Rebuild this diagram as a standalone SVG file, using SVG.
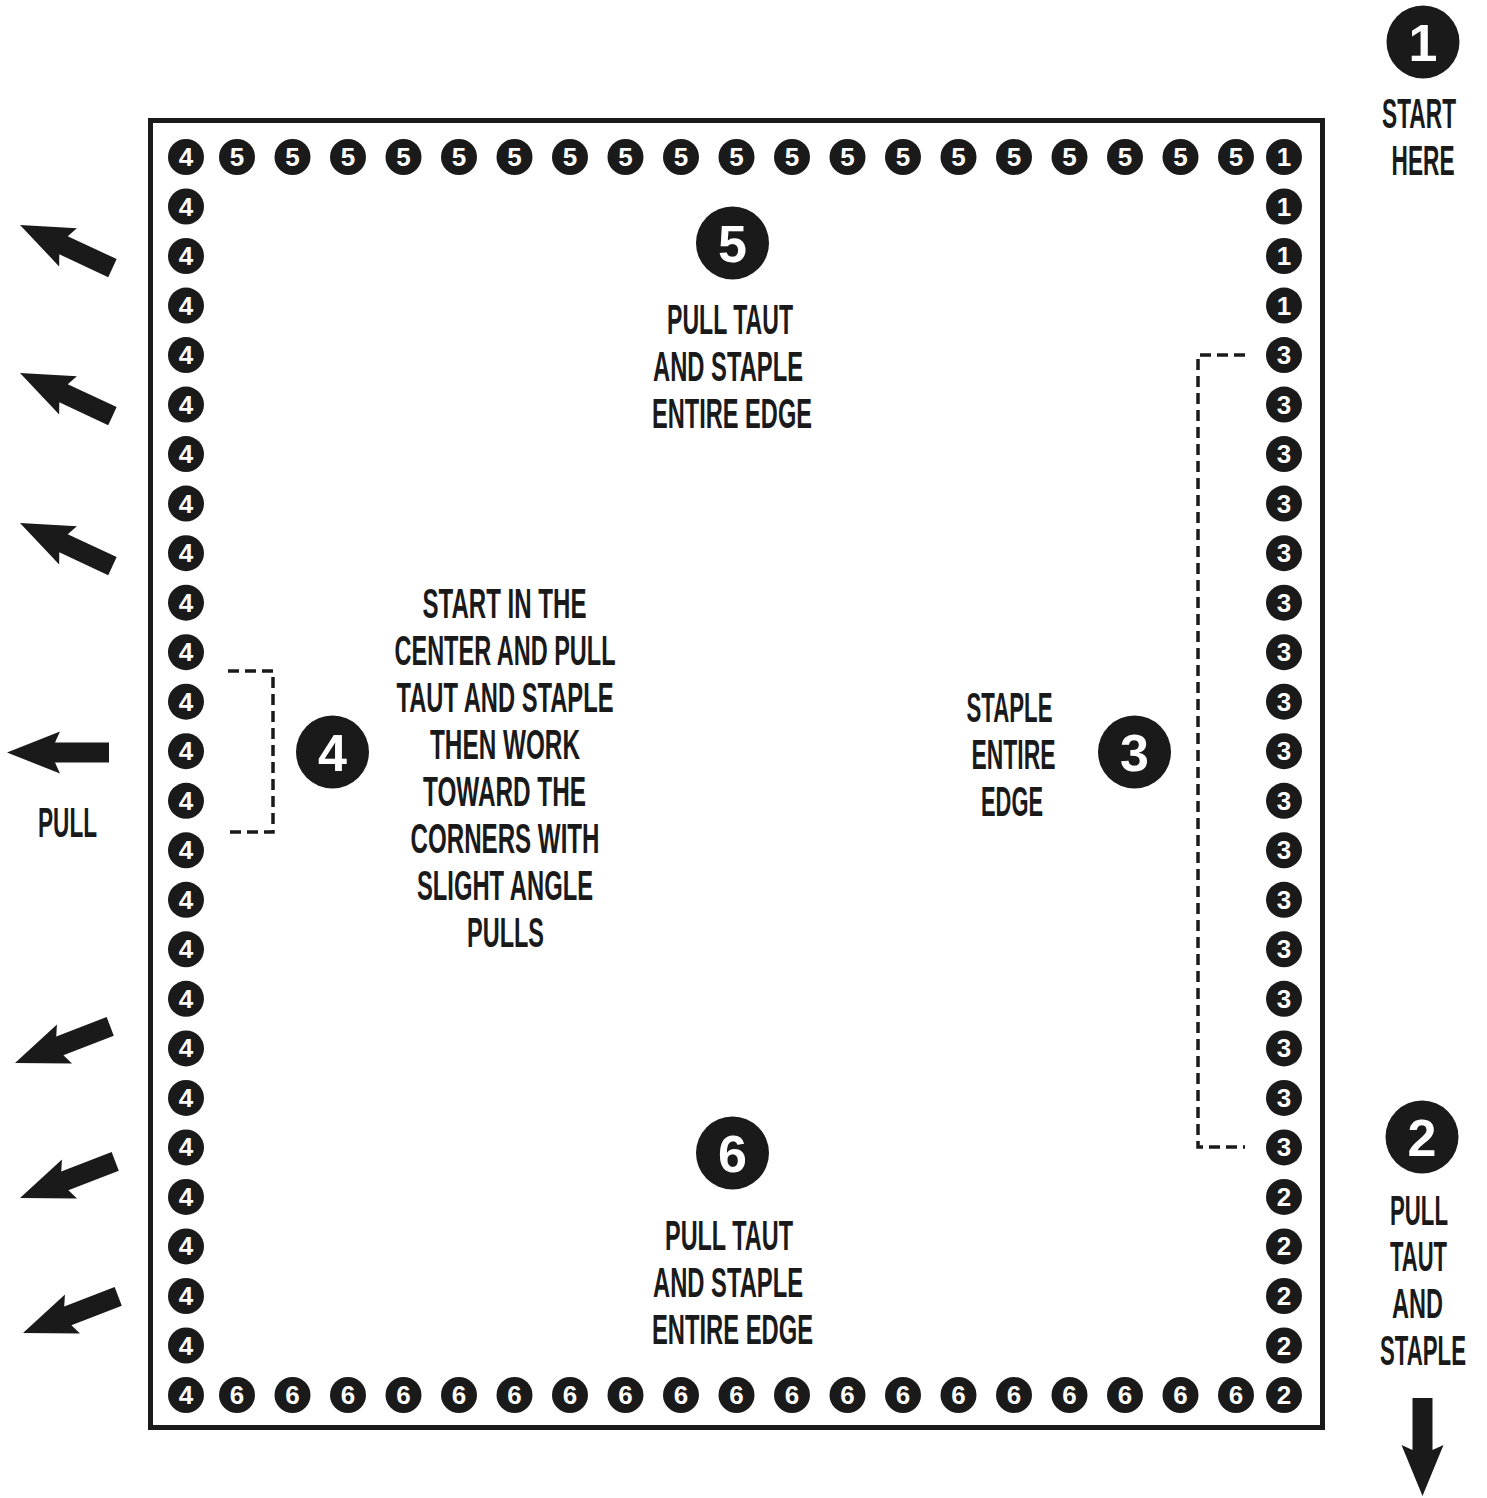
<svg xmlns="http://www.w3.org/2000/svg" xmlns:xlink="http://www.w3.org/1999/xlink" width="1487" height="1498" viewBox="0 0 1487 1498">
<style>
.s circle{fill:#1a1a1a}
.s text{fill:#fff;font-family:"Liberation Sans",Arial,sans-serif;font-weight:bold;font-size:26px;text-anchor:middle}
.b circle{fill:#1a1a1a}
.b text{fill:#fff;font-family:"Liberation Sans",Arial,sans-serif;font-weight:bold;font-size:52px;text-anchor:middle}
.lbl{fill:#1a1a1a;font-family:"Liberation Sans",Arial,sans-serif;font-weight:bold;font-size:43px;text-anchor:middle}
.dash{fill:none;stroke:#1a1a1a;stroke-width:3.5;stroke-dasharray:11 6}
.arrow{fill:#1a1a1a}
</style>
<defs>
<path id="arr" d="M0,0 L53,-21 L48,-10 L102,-10 L102,10 L48,10 L53,21 Z"/>
</defs>
<rect x="0" y="0" width="1487" height="1498" fill="#fff"/>
<g id="frame"><rect x="150.5" y="120.5" width="1172" height="1307" fill="none" stroke="#1a1a1a" stroke-width="5"/></g>

<g id="top-row">
<g class="s" transform="translate(186,157)"><circle r="18"/><text y="9">4</text></g>
<g class="s" transform="translate(237,157)"><circle r="18"/><text y="9">5</text></g>
<g class="s" transform="translate(292.5,157)"><circle r="18"/><text y="9">5</text></g>
<g class="s" transform="translate(348,157)"><circle r="18"/><text y="9">5</text></g>
<g class="s" transform="translate(403.5,157)"><circle r="18"/><text y="9">5</text></g>
<g class="s" transform="translate(459,157)"><circle r="18"/><text y="9">5</text></g>
<g class="s" transform="translate(514.5,157)"><circle r="18"/><text y="9">5</text></g>
<g class="s" transform="translate(570,157)"><circle r="18"/><text y="9">5</text></g>
<g class="s" transform="translate(625.5,157)"><circle r="18"/><text y="9">5</text></g>
<g class="s" transform="translate(681,157)"><circle r="18"/><text y="9">5</text></g>
<g class="s" transform="translate(736.5,157)"><circle r="18"/><text y="9">5</text></g>
<g class="s" transform="translate(792,157)"><circle r="18"/><text y="9">5</text></g>
<g class="s" transform="translate(847.5,157)"><circle r="18"/><text y="9">5</text></g>
<g class="s" transform="translate(903,157)"><circle r="18"/><text y="9">5</text></g>
<g class="s" transform="translate(958.5,157)"><circle r="18"/><text y="9">5</text></g>
<g class="s" transform="translate(1014,157)"><circle r="18"/><text y="9">5</text></g>
<g class="s" transform="translate(1069.5,157)"><circle r="18"/><text y="9">5</text></g>
<g class="s" transform="translate(1125,157)"><circle r="18"/><text y="9">5</text></g>
<g class="s" transform="translate(1180.5,157)"><circle r="18"/><text y="9">5</text></g>
<g class="s" transform="translate(1236,157)"><circle r="18"/><text y="9">5</text></g>
<g class="s" transform="translate(1284,157)"><circle r="18"/><text y="9">1</text></g>
</g>

<g id="bottom-row">
<g class="s" transform="translate(186,1395)"><circle r="18"/><text y="9">4</text></g>
<g class="s" transform="translate(237,1395)"><circle r="18"/><text y="9">6</text></g>
<g class="s" transform="translate(292.5,1395)"><circle r="18"/><text y="9">6</text></g>
<g class="s" transform="translate(348,1395)"><circle r="18"/><text y="9">6</text></g>
<g class="s" transform="translate(403.5,1395)"><circle r="18"/><text y="9">6</text></g>
<g class="s" transform="translate(459,1395)"><circle r="18"/><text y="9">6</text></g>
<g class="s" transform="translate(514.5,1395)"><circle r="18"/><text y="9">6</text></g>
<g class="s" transform="translate(570,1395)"><circle r="18"/><text y="9">6</text></g>
<g class="s" transform="translate(625.5,1395)"><circle r="18"/><text y="9">6</text></g>
<g class="s" transform="translate(681,1395)"><circle r="18"/><text y="9">6</text></g>
<g class="s" transform="translate(736.5,1395)"><circle r="18"/><text y="9">6</text></g>
<g class="s" transform="translate(792,1395)"><circle r="18"/><text y="9">6</text></g>
<g class="s" transform="translate(847.5,1395)"><circle r="18"/><text y="9">6</text></g>
<g class="s" transform="translate(903,1395)"><circle r="18"/><text y="9">6</text></g>
<g class="s" transform="translate(958.5,1395)"><circle r="18"/><text y="9">6</text></g>
<g class="s" transform="translate(1014,1395)"><circle r="18"/><text y="9">6</text></g>
<g class="s" transform="translate(1069.5,1395)"><circle r="18"/><text y="9">6</text></g>
<g class="s" transform="translate(1125,1395)"><circle r="18"/><text y="9">6</text></g>
<g class="s" transform="translate(1180.5,1395)"><circle r="18"/><text y="9">6</text></g>
<g class="s" transform="translate(1236,1395)"><circle r="18"/><text y="9">6</text></g>
<g class="s" transform="translate(1284,1395)"><circle r="18"/><text y="9">2</text></g>
</g>

<g id="left-col">
<g class="s" transform="translate(186,206.5)"><circle r="18"/><text y="9">4</text></g>
<g class="s" transform="translate(186,256)"><circle r="18"/><text y="9">4</text></g>
<g class="s" transform="translate(186,305.6)"><circle r="18"/><text y="9">4</text></g>
<g class="s" transform="translate(186,355.1)"><circle r="18"/><text y="9">4</text></g>
<g class="s" transform="translate(186,404.6)"><circle r="18"/><text y="9">4</text></g>
<g class="s" transform="translate(186,454.1)"><circle r="18"/><text y="9">4</text></g>
<g class="s" transform="translate(186,503.6)"><circle r="18"/><text y="9">4</text></g>
<g class="s" transform="translate(186,553.2)"><circle r="18"/><text y="9">4</text></g>
<g class="s" transform="translate(186,602.7)"><circle r="18"/><text y="9">4</text></g>
<g class="s" transform="translate(186,652.2)"><circle r="18"/><text y="9">4</text></g>
<g class="s" transform="translate(186,701.7)"><circle r="18"/><text y="9">4</text></g>
<g class="s" transform="translate(186,751.2)"><circle r="18"/><text y="9">4</text></g>
<g class="s" transform="translate(186,800.8)"><circle r="18"/><text y="9">4</text></g>
<g class="s" transform="translate(186,850.3)"><circle r="18"/><text y="9">4</text></g>
<g class="s" transform="translate(186,899.8)"><circle r="18"/><text y="9">4</text></g>
<g class="s" transform="translate(186,949.3)"><circle r="18"/><text y="9">4</text></g>
<g class="s" transform="translate(186,998.8)"><circle r="18"/><text y="9">4</text></g>
<g class="s" transform="translate(186,1048.4)"><circle r="18"/><text y="9">4</text></g>
<g class="s" transform="translate(186,1097.9)"><circle r="18"/><text y="9">4</text></g>
<g class="s" transform="translate(186,1147.4)"><circle r="18"/><text y="9">4</text></g>
<g class="s" transform="translate(186,1196.9)"><circle r="18"/><text y="9">4</text></g>
<g class="s" transform="translate(186,1246.4)"><circle r="18"/><text y="9">4</text></g>
<g class="s" transform="translate(186,1296)"><circle r="18"/><text y="9">4</text></g>
<g class="s" transform="translate(186,1345.5)"><circle r="18"/><text y="9">4</text></g>
</g>

<g id="right-col">
<g class="s" transform="translate(1284,206.5)"><circle r="18"/><text y="9">1</text></g>
<g class="s" transform="translate(1284,256)"><circle r="18"/><text y="9">1</text></g>
<g class="s" transform="translate(1284,305.6)"><circle r="18"/><text y="9">1</text></g>
<g class="s" transform="translate(1284,355.1)"><circle r="18"/><text y="9">3</text></g>
<g class="s" transform="translate(1284,404.6)"><circle r="18"/><text y="9">3</text></g>
<g class="s" transform="translate(1284,454.1)"><circle r="18"/><text y="9">3</text></g>
<g class="s" transform="translate(1284,503.6)"><circle r="18"/><text y="9">3</text></g>
<g class="s" transform="translate(1284,553.2)"><circle r="18"/><text y="9">3</text></g>
<g class="s" transform="translate(1284,602.7)"><circle r="18"/><text y="9">3</text></g>
<g class="s" transform="translate(1284,652.2)"><circle r="18"/><text y="9">3</text></g>
<g class="s" transform="translate(1284,701.7)"><circle r="18"/><text y="9">3</text></g>
<g class="s" transform="translate(1284,751.2)"><circle r="18"/><text y="9">3</text></g>
<g class="s" transform="translate(1284,800.8)"><circle r="18"/><text y="9">3</text></g>
<g class="s" transform="translate(1284,850.3)"><circle r="18"/><text y="9">3</text></g>
<g class="s" transform="translate(1284,899.8)"><circle r="18"/><text y="9">3</text></g>
<g class="s" transform="translate(1284,949.3)"><circle r="18"/><text y="9">3</text></g>
<g class="s" transform="translate(1284,998.8)"><circle r="18"/><text y="9">3</text></g>
<g class="s" transform="translate(1284,1048.4)"><circle r="18"/><text y="9">3</text></g>
<g class="s" transform="translate(1284,1097.9)"><circle r="18"/><text y="9">3</text></g>
<g class="s" transform="translate(1284,1147.4)"><circle r="18"/><text y="9">3</text></g>
<g class="s" transform="translate(1284,1196.9)"><circle r="18"/><text y="9">2</text></g>
<g class="s" transform="translate(1284,1246.4)"><circle r="18"/><text y="9">2</text></g>
<g class="s" transform="translate(1284,1296)"><circle r="18"/><text y="9">2</text></g>
<g class="s" transform="translate(1284,1345.5)"><circle r="18"/><text y="9">2</text></g>
</g>

<g id="step1">
<g class="b" transform="translate(1423,42)"><circle r="36.5"/><text y="19">1</text></g>
<text class="lbl" transform="translate(1419,128) scale(0.5,1)" textLength="148" lengthAdjust="spacingAndGlyphs">START</text>
<text class="lbl" transform="translate(1423,175) scale(0.5,1)" textLength="126" lengthAdjust="spacingAndGlyphs">HERE</text>
</g>

<g id="step2">
<g class="b" transform="translate(1422,1137)"><circle r="36.5"/><text y="19">2</text></g>
<text class="lbl" transform="translate(1419,1225) scale(0.5,1)" textLength="116" lengthAdjust="spacingAndGlyphs">PULL</text>
<text class="lbl" transform="translate(1418.5,1271) scale(0.5,1)" textLength="114" lengthAdjust="spacingAndGlyphs">TAUT</text>
<text class="lbl" transform="translate(1417.5,1318) scale(0.5,1)" textLength="102" lengthAdjust="spacingAndGlyphs">AND</text>
<text class="lbl" transform="translate(1423,1365) scale(0.5,1)" textLength="172" lengthAdjust="spacingAndGlyphs">STAPLE</text>
</g>

<g id="step3">
<g class="b" transform="translate(1134.5,752)"><circle r="36.5"/><text y="19">3</text></g>
<text class="lbl" transform="translate(1009.5,722) scale(0.5,1)" textLength="172" lengthAdjust="spacingAndGlyphs">STAPLE</text>
<text class="lbl" transform="translate(1013.5,769) scale(0.5,1)" textLength="168" lengthAdjust="spacingAndGlyphs">ENTIRE</text>
<text class="lbl" transform="translate(1012,816) scale(0.5,1)" textLength="124" lengthAdjust="spacingAndGlyphs">EDGE</text>
</g>

<g id="step4">
<g class="b" transform="translate(332.5,752)"><circle r="36.5"/><text y="19">4</text></g>
<text class="lbl" transform="translate(504.5,618) scale(0.5,1)" textLength="328" lengthAdjust="spacingAndGlyphs">START IN THE</text>
<text class="lbl" transform="translate(505,665) scale(0.5,1)" textLength="442" lengthAdjust="spacingAndGlyphs">CENTER AND PULL</text>
<text class="lbl" transform="translate(505,712) scale(0.5,1)" textLength="434" lengthAdjust="spacingAndGlyphs">TAUT AND STAPLE</text>
<text class="lbl" transform="translate(505,759) scale(0.5,1)" textLength="300" lengthAdjust="spacingAndGlyphs">THEN WORK</text>
<text class="lbl" transform="translate(504.5,806) scale(0.5,1)" textLength="326" lengthAdjust="spacingAndGlyphs">TOWARD THE</text>
<text class="lbl" transform="translate(505,853) scale(0.5,1)" textLength="378" lengthAdjust="spacingAndGlyphs">CORNERS WITH</text>
<text class="lbl" transform="translate(505,900) scale(0.5,1)" textLength="352" lengthAdjust="spacingAndGlyphs">SLIGHT ANGLE</text>
<text class="lbl" transform="translate(505.5,947) scale(0.5,1)" textLength="154" lengthAdjust="spacingAndGlyphs">PULLS</text>
<text class="lbl" transform="translate(67.5,837) scale(0.5,1)" textLength="118" lengthAdjust="spacingAndGlyphs">PULL</text>
</g>

<g id="step5">
<g class="b" transform="translate(732.5,243)"><circle r="36.5"/><text y="19">5</text></g>
<text class="lbl" transform="translate(730,334) scale(0.5,1)" textLength="252" lengthAdjust="spacingAndGlyphs">PULL TAUT</text>
<text class="lbl" transform="translate(728,381) scale(0.5,1)" textLength="300" lengthAdjust="spacingAndGlyphs">AND STAPLE</text>
<text class="lbl" transform="translate(732,428) scale(0.5,1)" textLength="320" lengthAdjust="spacingAndGlyphs">ENTIRE EDGE</text>
</g>

<g id="step6">
<g class="b" transform="translate(732.5,1153)"><circle r="36.5"/><text y="19">6</text></g>
<text class="lbl" transform="translate(729,1250) scale(0.5,1)" textLength="256" lengthAdjust="spacingAndGlyphs">PULL TAUT</text>
<text class="lbl" transform="translate(728,1297) scale(0.5,1)" textLength="300" lengthAdjust="spacingAndGlyphs">AND STAPLE</text>
<text class="lbl" transform="translate(732.5,1344) scale(0.5,1)" textLength="322" lengthAdjust="spacingAndGlyphs">ENTIRE EDGE</text>
</g>

<g id="connectors">
<path class="dash" d="M228,671 H273 V832 H228"/>
<path class="dash" d="M1245,355 H1198 V1147 H1245"/>
<use class="arrow" xlink:href="#arr" href="#arr" transform="translate(20,225) rotate(25)"/>
<use class="arrow" xlink:href="#arr" href="#arr" transform="translate(20,373) rotate(25)"/>
<use class="arrow" xlink:href="#arr" href="#arr" transform="translate(20,523) rotate(25)"/>
<use class="arrow" xlink:href="#arr" href="#arr" transform="translate(7,752.5)"/>
<use class="arrow" xlink:href="#arr" href="#arr" transform="translate(15,1063) rotate(-21)"/>
<use class="arrow" xlink:href="#arr" href="#arr" transform="translate(20,1198) rotate(-21)"/>
<use class="arrow" xlink:href="#arr" href="#arr" transform="translate(23,1333) rotate(-21)"/>
<use class="arrow" xlink:href="#arr" href="#arr" transform="translate(1422.5,1496) rotate(-90) scale(0.96,1)"/>
</g>
</svg>
